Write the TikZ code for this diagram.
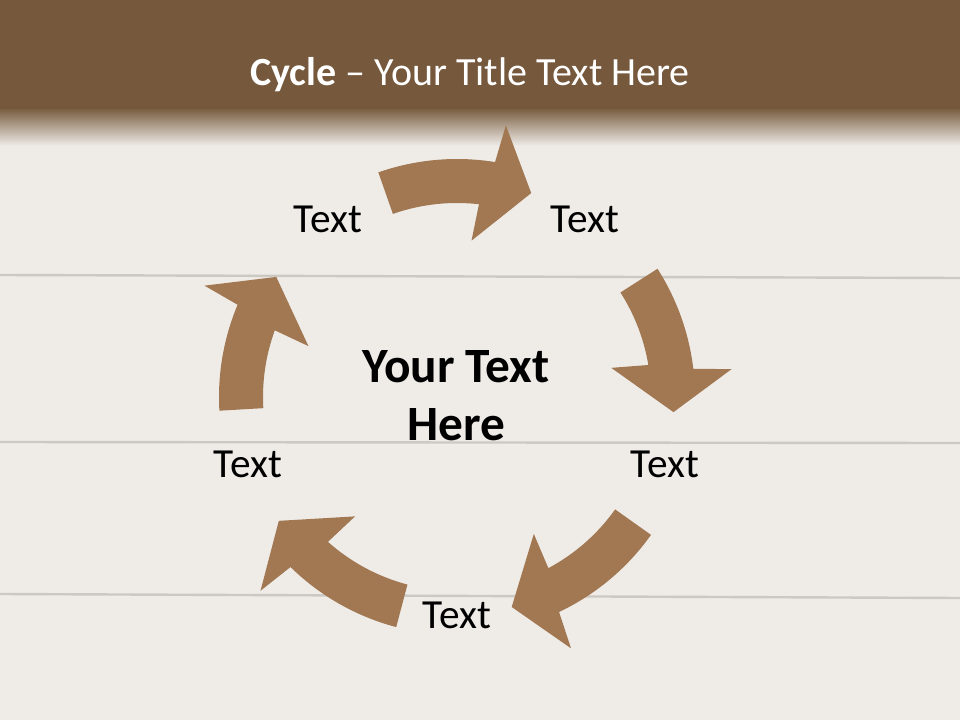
\documentclass[tikz,border=0pt]{standalone}
\usepackage{fontspec}
\setmainfont{Carlito}
\definecolor{banner}{HTML}{76593C}
\definecolor{woodbg}{HTML}{EFECE8}
\definecolor{plank}{HTML}{CCC8C2}
\definecolor{arrowbrown}{HTML}{A17852}
\tikzset{
  arrowshape/.style={fill=arrowbrown, draw=none},
  plankline/.style={draw=plank, line width=1.8pt},
  label/.style={font=\fontsize{31}{36}\selectfont, text=black, inner sep=0pt},
  centerlabel/.style={font=\bfseries\fontsize{37}{43.5}\selectfont, text=black, align=center, inner sep=0pt},
  titletext/.style={font=\fontsize{30}{35}\selectfont, text=white, inner sep=0pt}
}
% #1 tail angle, #2 tip angle (image coordinates, clockwise)
\newcommand\cyclearrow[2]{%
  \fill[arrowshape]
    plot[domain=#1:#2-10.8, samples=40] ({457+238*cos(\x)},{397+238*sin(\x)})
    -- ({457+276*cos(#2-9.8)},{397+276*sin(#2-9.8)})
    -- ({457+217*cos(#2)},{397+217*sin(#2)})
    -- ({457+157*cos(#2-14.7)},{397+157*sin(#2-14.7)})
    -- ({457+194*cos(#2-13.5)},{397+194*sin(#2-13.5)})
    -- plot[domain=#2-13.5:#1, samples=40] ({457+194*cos(\x)},{397+194*sin(\x)})
    -- cycle;}
\begin{document}
\begin{tikzpicture}[x=0.75pt,y=-0.75pt]
\useasboundingbox (0,0) rectangle (960,720);
% background
\fill[woodbg] (0,0) rectangle (960,720);
\draw[plankline] (0,275) -- (960,278);
\draw[plankline] (0,442) -- (960,443);
\draw[plankline] (0,594) -- (960,598);
% banner
\fill[banner] (0,0) rectangle (960,108);
\shade[top color=banner, bottom color=woodbg] (0,107.5) rectangle (960,146);
\node[titletext] (title) at (470,75) {\textbf{Cycle} – Your Title Text Here};
% arrows
\cyclearrow{-109.3}{-70}
\cyclearrow{-32.6}{4}
\cyclearrow{35.4}{75.4}
\cyclearrow{104.8}{145.2}
\cyclearrow{176.7}{213.6}
% labels
\node[label] (t1) at (328,219) {Text};
\node[label] (t2) at (585,219) {Text};
\node[label] (t3) at (665,464) {Text};
\node[label] (t4) at (457,615) {Text};
\node[label] (t5) at (248,464) {Text};
\node[centerlabel] (center) at (456,396) {Your Text\\Here};
\end{tikzpicture}
\end{document}
